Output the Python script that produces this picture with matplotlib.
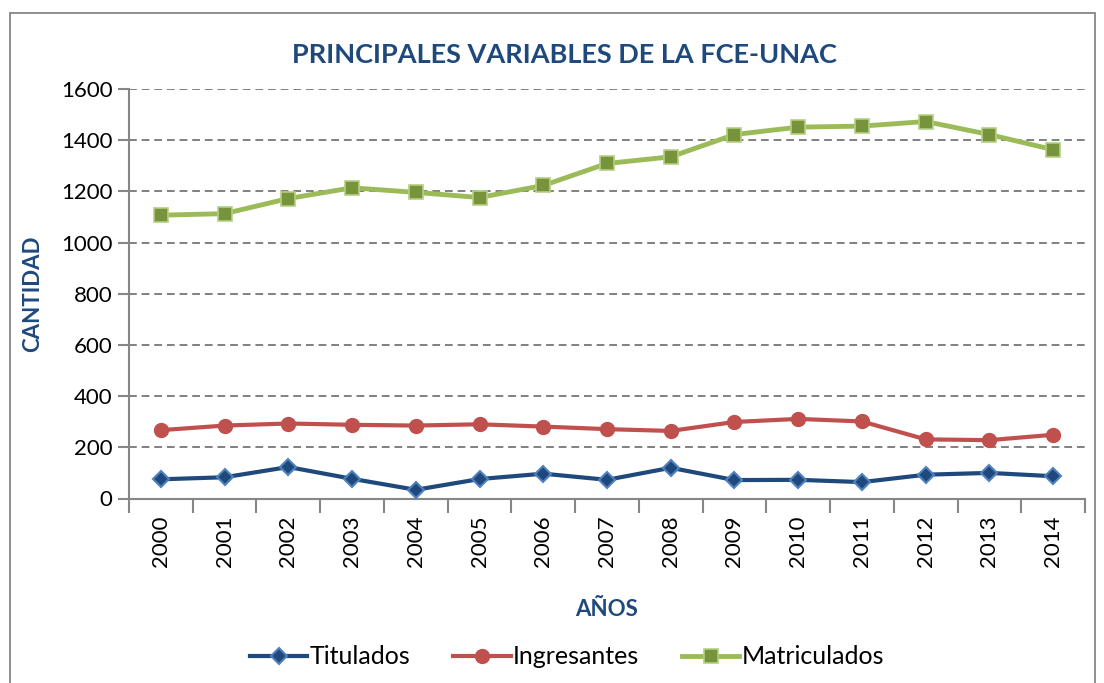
import matplotlib
matplotlib.use("Agg")
import matplotlib.pyplot as plt
from matplotlib.patches import Rectangle

years = ["2000", "2001", "2002", "2003", "2004", "2005", "2006", "2007",
         "2008", "2009", "2010", "2011", "2012", "2013", "2014"]
titulados = [75, 83, 123, 77, 34, 76, 97, 73, 120, 72, 73, 64, 93, 100, 87]
ingresantes = [267, 285, 293, 288, 285, 290, 281, 271, 264, 299, 311, 301, 231, 228, 249]
matriculados = [1107, 1113, 1172, 1214, 1196, 1176, 1223, 1309, 1335, 1422, 1451, 1455, 1473, 1422, 1363]
y_ticks = [0, 200, 400, 600, 800, 1000, 1200, 1400, 1600]

FONT = ["Lato", "DejaVu Sans"]
plt.rcParams['font.family'] = FONT

W, H = 1104, 683
fig = plt.figure(figsize=(W / 100, H / 100), dpi=100)
ax = fig.add_axes([129 / W, 1 - 498.5 / H, (1085 - 129) / W, (498.5 - 89) / H])

x = list(range(len(years)))
ax.plot(x, titulados, color="#1F497D", lw=3, marker="D", ms=8,
        mfc="#1F497D", mec="#4F81BD", mew=1.5, label="Titulados", zorder=3)
ax.plot(x, ingresantes, color="#C0504D", lw=3, marker="o", ms=10,
        mfc="#C0504D", mec="#C0504D", mew=1, label="Ingresantes", zorder=3)
ax.plot(x, matriculados, color="#9BBB59", lw=3.5, marker="s", ms=10,
        mfc="#77933C", mec="#B5CF84", mew=1.2, label="Matriculados", zorder=3)

ax.set_xlim(-0.5, len(years) - 0.5)
ax.set_ylim(0, 1600)
ax.set_yticks(y_ticks)
ax.set_yticklabels([str(v) for v in y_ticks], fontsize=16)
ax.set_xticks(x)
ax.set_xticklabels(years, rotation=90, fontsize=16)
ax.set_xticks([i - 0.5 for i in range(len(years) + 1)], minor=True)
ax.tick_params(axis="x", which="major", length=0, pad=12)
ax.tick_params(axis="x", which="minor", length=10, color="#868686", width=1.5)
ax.tick_params(axis="y", length=8, color="#868686", width=1.5, pad=4)

for yv in y_ticks[1:]:
    ax.axhline(yv, color="#808080", lw=1.4, ls=(0, (4, 2.5)), zorder=1)

for s in ["top", "right"]:
    ax.spines[s].set_visible(False)
for s in ["left", "bottom"]:
    ax.spines[s].set_color("#868686")
    ax.spines[s].set_linewidth(1.5)

fig.text(564 / W, 1 - 55 / H, "PRINCIPALES VARIABLES DE LA FCE-UNAC",
         ha="center", va="center", fontsize=19.5, fontweight="bold", color="#1F497D")
fig.text(33 / W, 1 - 294 / H, "CANTIDAD", rotation=90, ha="center", va="center",
         fontsize=16, fontweight="bold", color="#1F497D")
fig.text(607 / W, 1 - 609 / H, "AÑOS", ha="center", va="center",
         fontsize=16, fontweight="bold", color="#1F497D")

leg = fig.legend(loc="center", bbox_to_anchor=(567 / W, 1 - 657 / H), ncol=3,
                 frameon=False, fontsize=18, handlelength=2.3, columnspacing=1.7,
                 handletextpad=0.1)

fig.patches.append(Rectangle((10 / W, -0.02), (1095 - 10) / W, 1 - 12.5 / H + 0.02,
                             transform=fig.transFigure, fill=False,
                             edgecolor="#868686", lw=1.3))

fig.savefig("out.png", dpi=100)
